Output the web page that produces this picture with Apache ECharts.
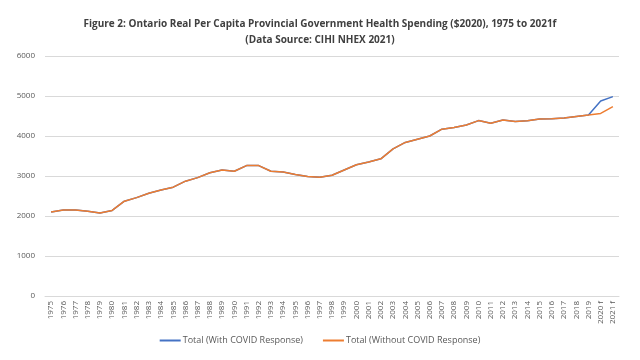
<!DOCTYPE html>
<html><head><meta charset="utf-8">
<script src="https://cdn.jsdelivr.net/npm/echarts@6/dist/echarts.min.js"></script>
<style>html,body{margin:0;padding:0;background:#fff}#c{width:640px;height:360px}</style>
</head><body><div id="c"></div>
<script>
var years = ['1975','1976','1977','1978','1979','1980','1981','1982','1983','1984','1985','1986','1987','1988','1989','1990','1991','1992','1993','1994','1995','1996','1997','1998','1999','2000','2001','2002','2003','2004','2005','2006','2007','2008','2009','2010','2011','2012','2013','2014','2015','2016','2017','2018','2019','2020 f','2021 f'];
var withCovid = [2100,2150,2150,2120,2075,2140,2370,2460,2570,2650,2720,2870,2960,3080,3150,3120,3260,3260,3120,3100,3040,2990,2970,3020,3150,3280,3350,3430,3680,3840,3920,4000,4170,4210,4275,4385,4320,4400,4360,4380,4425,4430,4450,4490,4525,4875,4985];
var withoutCovid = [2100,2150,2150,2120,2075,2140,2370,2460,2570,2650,2720,2870,2960,3080,3150,3120,3260,3260,3120,3100,3040,2990,2970,3020,3150,3280,3350,3430,3680,3840,3920,4000,4170,4210,4275,4385,4320,4400,4360,4380,4425,4430,4450,4490,4525,4565,4735];
var chart = echarts.init(document.getElementById('c'));
chart.setOption({
  animation:false,
  title:{text:'Figure 2: Ontario Real Per Capita Provincial Government Health Spending ($2020), 1975 to 2021f\n(Data Source: CIHI NHEX 2021)',
    left:'center', top:11,
    textStyle:{fontFamily:'Open Sans',fontSize:10,fontWeight:'bold',color:'#404040',lineHeight:16,align:'center'}},
  legend:{top:331,left:'center',itemWidth:21,itemHeight:2,itemGap:20,icon:'rect',
    textStyle:{fontFamily:'Open Sans',fontSize:9,color:'#595959',padding:[0,0,0,-3]},
    data:['Total (With COVID Response)','Total (Without COVID Response)']},
  grid:{left:45,right:21,top:56,bottom:64,containLabel:false},
  xAxis:{type:'category',data:years,boundaryGap:true,
    axisLine:{lineStyle:{color:'#d9d9d9'}},axisTick:{show:false},
    axisLabel:{rotate:90,interval:0,fontFamily:'Open Sans',fontSize:8,color:'#595959',margin:5}},
  yAxis:{type:'value',min:0,max:6000,interval:1000,
    axisLine:{show:false},axisTick:{show:false},
    splitLine:{lineStyle:{color:'#d9d9d9'}},
    axisLabel:{fontFamily:'Open Sans',fontSize:8,color:'#595959',margin:10,formatter:function(v){return String(v);}}},
  series:[
    {name:'Total (With COVID Response)',type:'line',data:withCovid,showSymbol:false,symbol:'none',
      lineStyle:{color:'#4472C4',width:1.5},itemStyle:{color:'#4472C4'}},
    {name:'Total (Without COVID Response)',type:'line',data:withoutCovid,showSymbol:false,symbol:'none',
      lineStyle:{color:'#ED7D31',width:1.5},itemStyle:{color:'#ED7D31'}}
  ]
});
</script></body></html>
